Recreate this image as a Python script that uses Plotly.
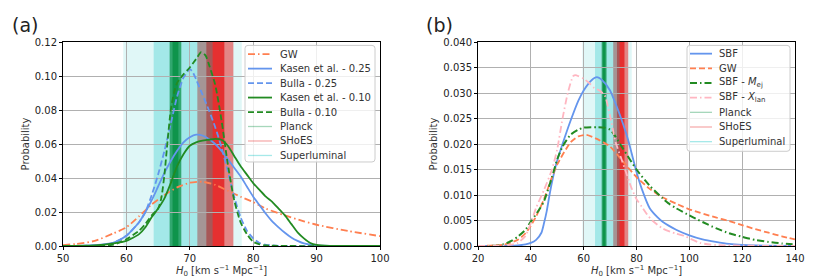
import plotly.graph_objects as go

# ---------------- data: panel (a) ----------------
gw_a_h0 = [50, 52, 55, 58, 60, 62, 64, 66, 68, 70, 72, 74, 76, 78, 80, 82, 85, 88, 90, 95, 100]
gw_a_p = [0.0005, 0.0012, 0.003, 0.0075, 0.011, 0.0175, 0.0245, 0.030, 0.0345, 0.0372, 0.0378, 0.036,
          0.0325, 0.029, 0.0258, 0.022, 0.018, 0.0145, 0.0125, 0.0088, 0.0058]

kasen25_h0 = [50, 55, 58, 60, 62, 63, 64, 65, 66, 67, 68, 69, 70, 71, 72, 73, 74, 75, 76, 77, 78, 79,
              80, 81, 82, 83, 84, 85, 86, 87, 88, 90, 95, 100]
kasen25_p = [0, 0.0005, 0.002, 0.006, 0.014, 0.02, 0.027, 0.035, 0.043, 0.050, 0.056, 0.061, 0.064,
             0.0655, 0.065, 0.063, 0.060, 0.056, 0.051, 0.046, 0.041, 0.035, 0.029, 0.024, 0.019,
             0.0145, 0.011, 0.0078, 0.005, 0.003, 0.0015, 0.0004, 0, 0]

bulla25_h0 = [50, 56, 58, 60, 62, 63, 64, 65, 66, 67, 68, 69, 70, 70.5, 71, 72, 73, 74, 75, 76, 77,
              78, 79, 80, 81, 82, 84, 100]
bulla25_p = [0, 0.0005, 0.002, 0.006, 0.014, 0.02, 0.03, 0.042, 0.056, 0.072, 0.088, 0.099, 0.104,
             0.102, 0.098, 0.089, 0.08, 0.07, 0.058, 0.044, 0.029, 0.017, 0.009, 0.0045, 0.0018,
             0.0007, 0.0001, 0]

kasen10_h0 = [50, 55, 58, 60, 62, 63, 64, 65, 66, 67, 68, 69, 70, 71, 72, 73, 74, 75, 76, 77, 78, 79,
              80, 81, 82, 83, 84, 85, 86, 87, 88, 89, 90, 92, 100]
kasen10_p = [0, 0.0003, 0.0015, 0.003, 0.007, 0.011, 0.017, 0.022, 0.028, 0.037, 0.047, 0.054, 0.059,
             0.061, 0.062, 0.0625, 0.063, 0.0625, 0.059, 0.053, 0.047, 0.042, 0.037, 0.033, 0.029,
             0.026, 0.022, 0.018, 0.013, 0.008, 0.0045, 0.0018, 0.0006, 0.0001, 0]

bulla10_h0 = [50, 56, 58, 60, 62, 63, 64, 65, 65.5, 66, 66.5, 67, 67.5, 68, 69, 70, 71, 71.8, 72.5,
              73, 74, 75, 76, 77, 78, 79, 80, 81, 82, 100]
bulla10_p = [0, 0.0002, 0.0008, 0.004, 0.009, 0.013, 0.018, 0.022, 0.028, 0.042, 0.062, 0.080, 0.090,
             0.096, 0.101, 0.105, 0.110, 0.114, 0.112, 0.107, 0.095, 0.074, 0.048, 0.027, 0.014,
             0.007, 0.0025, 0.001, 0.0003, 0]

# ---------------- data: panel (b) ----------------
sbf_h0 = [20, 35, 38, 40, 42, 44, 45, 46, 47, 48, 50, 52, 55, 58, 60, 63, 65, 67, 70, 72, 75, 77, 80,
          82, 85, 88, 90, 95, 100, 105, 110, 115, 120, 125, 140]
sbf_p = [0, 0.0001, 0.0003, 0.0006, 0.0012, 0.0026, 0.0045, 0.0068, 0.0098, 0.0125, 0.0168, 0.020,
         0.0245, 0.0285, 0.0305, 0.0325, 0.0331, 0.0325, 0.0305, 0.028, 0.0238, 0.0205, 0.0145,
         0.0112, 0.0074, 0.0056, 0.0047, 0.0032, 0.0021, 0.0013, 0.0008, 0.0004, 0.0002, 0.0001, 0]

gw_b_h0 = [20, 30, 35, 38, 40, 42, 45, 48, 50, 55, 58, 61, 65, 70, 75, 80, 85, 90, 95, 100, 110, 115,
           120, 125, 130, 135, 140]
gw_b_p = [0, 0.0003, 0.0012, 0.0025, 0.004, 0.0058, 0.0092, 0.0135, 0.016, 0.0203, 0.0215, 0.0218,
          0.021, 0.0195, 0.0165, 0.0135, 0.0112, 0.0095, 0.0083, 0.0072, 0.0056, 0.0049, 0.0041,
          0.0033, 0.0026, 0.0019, 0.0013]

sbf_mej_h0 = [20, 28, 30, 33, 35, 38, 40, 43, 45, 48, 50, 52, 55, 58, 60, 65, 68, 70, 72, 75, 80, 85,
              90, 92, 95, 100, 103, 105, 110, 115, 120, 123, 125, 130, 135, 140]
sbf_mej_p = [0, 0.0001, 0.0004, 0.0011, 0.0018, 0.0032, 0.0048, 0.007, 0.0088, 0.0135, 0.017, 0.0195,
             0.0218, 0.0228, 0.0232, 0.0233, 0.0232, 0.0228, 0.0215, 0.019, 0.015, 0.0118, 0.0093,
             0.0084, 0.0074, 0.006, 0.0052, 0.0047, 0.0035, 0.0025, 0.0018, 0.0014, 0.0012, 0.0008,
             0.0005, 0.0003]

sbf_xlan_h0 = [20, 32, 35, 38, 40, 42, 45, 48, 50, 52, 54, 56, 57, 58, 60, 62, 64, 66, 68, 70, 72, 74,
               76, 78, 80, 82, 84, 86, 90, 95, 98, 104, 110, 140]
sbf_xlan_p = [0, 0.0002, 0.0006, 0.002, 0.0045, 0.0075, 0.011, 0.015, 0.019, 0.025, 0.030, 0.0333,
              0.0335, 0.0333, 0.0328, 0.032, 0.031, 0.0305, 0.0295, 0.0255, 0.0205, 0.0175, 0.0145,
              0.0115, 0.0092, 0.0077, 0.0062, 0.005, 0.0034, 0.0024, 0.002, 0.0006, 0.0002, 0]

# ---------------- reference H0 bands (1 and 2 sigma) ----------------
superluminal_2sig = [59.5, 78.2]
superluminal_1sig = [64.3, 73.6]
shoes_2sig = [71.19, 76.87]
shoes_1sig = [72.61, 75.45]
planck_2sig = [66.82, 68.66]
planck_1sig = [67.28, 68.20]

# axis ticks
yticks_a = [0, 0.02, 0.04, 0.06, 0.08, 0.10, 0.12]
ytick_labels_a = ["0.00", "0.02", "0.04", "0.06", "0.08", "0.10", "0.12"]
xticks_a = [50, 60, 70, 80, 90, 100]
yticks_b = [0, 0.005, 0.01, 0.015, 0.02, 0.025, 0.03, 0.035, 0.04]
ytick_labels_b = ["0.000", "0.005", "0.010", "0.015", "0.020", "0.025", "0.030", "0.035", "0.040"]
xticks_b = [20, 40, 60, 80, 100, 120, 140]

# ---------------- styles ----------------
CORAL = "#ff7f50"
BLUE = "#6495ed"
GREEN = "#228b22"
PINK = "#ffb6c1"
DASH = "6px,3px"
DASHDOT = "7px,3px,1.5px,3px"
FONT = "DejaVu Sans"

fig = go.Figure()

def add_curve(x, y, color, dash, xa, ya, width=1.8):
    fig.add_trace(go.Scatter(x=x, y=y, mode="lines", xaxis=xa, yaxis=ya, showlegend=False,
                             line=dict(color=color, width=width, dash=dash, shape="spline",
                                       smoothing=0.6), hoverinfo="skip"))

# panel (a)
add_curve(gw_a_h0, gw_a_p, CORAL, DASHDOT, "x", "y")
add_curve(kasen25_h0, kasen25_p, BLUE, "solid", "x", "y")
add_curve(bulla25_h0, bulla25_p, BLUE, DASH, "x", "y")
add_curve(kasen10_h0, kasen10_p, GREEN, "solid", "x", "y")
add_curve(bulla10_h0, bulla10_p, GREEN, DASH, "x", "y")
# panel (b)
add_curve(sbf_h0, sbf_p, BLUE, "solid", "x2", "y2")
add_curve(gw_b_h0, gw_b_p, CORAL, DASH, "x2", "y2")
add_curve(sbf_mej_h0, sbf_mej_p, GREEN, DASHDOT, "x2", "y2", width=2)
add_curve(sbf_xlan_h0, sbf_xlan_p, PINK, DASHDOT, "x2", "y2")

# bands (drawn below the grid, layered with transparency)
band_layers = [
    (superluminal_2sig, "rgba(0,191,191,0.12)"),
    (shoes_2sig, "rgba(230,20,20,0.5)"),
    (shoes_1sig, "rgba(230,20,20,0.75)"),
    (superluminal_1sig, "rgba(0,191,191,0.27)"),
    (planck_2sig, "rgba(0,140,60,0.70)"),
    (planck_1sig, "rgba(0,140,60,0.70)"),
]
shapes = []
for xa in ["x", "x2"]:
    for (lo, hi), col in band_layers:
        shapes.append(dict(type="rect", xref=xa, yref=xa.replace("x", "y") + " domain",
                           x0=lo, x1=hi, y0=0, y1=1, fillcolor=col, line=dict(width=0),
                           layer="below"))

# ---------------- geometry helpers (pixels -> paper) ----------------
W, H = 830, 277
ML, MR, MT, MB = 55, 43, 34, 33
PW = W - ML - MR
PH = H - MT - MB

def px(x):
    return (x - ML) / PW

def py(y):
    return (H - MB - y) / PH

def rounded_box(l, t, r, b, rad=3):
    pts = [
        f"M{px(l + rad)},{py(t)}", f"L{px(r - rad)},{py(t)}", f"Q{px(r)},{py(t)} {px(r)},{py(t + rad)}",
        f"L{px(r)},{py(b - rad)}", f"Q{px(r)},{py(b)} {px(r - rad)},{py(b)}",
        f"L{px(l + rad)},{py(b)}", f"Q{px(l)},{py(b)} {px(l)},{py(b - rad)}",
        f"L{px(l)},{py(t + rad)}", f"Q{px(l)},{py(t)} {px(l + rad)},{py(t)}", "Z",
    ]
    return " ".join(pts)

# ---------------- legends (drawn as boxes, line samples and text) ----------------
legend_a = [
    ("GW", CORAL, DASHDOT, 1.8),
    ("Kasen et al. - 0.25", BLUE, "solid", 1.8),
    ("Bulla - 0.25", BLUE, DASH, 1.8),
    ("Kasen et al. - 0.10", GREEN, "solid", 1.8),
    ("Bulla - 0.10", GREEN, DASH, 1.8),
    ("Planck", "rgba(0,140,60,0.35)", "solid", 1.3),
    ("SHoES", "rgba(230,20,20,0.35)", "solid", 1.3),
    ("Superluminal", "rgba(0,191,191,0.35)", "solid", 1.3),
]
legend_b = [
    ("SBF", BLUE, "solid", 1.8),
    ("GW", CORAL, DASH, 1.8),
    ("SBF - <i>M</i><sub>ej</sub>", GREEN, DASHDOT, 2),
    ("SBF - <i>X</i><sub>lan</sub>", PINK, DASHDOT, 1.8),
    ("Planck", "rgba(0,140,60,0.35)", "solid", 1.3),
    ("SHoES", "rgba(230,20,20,0.35)", "solid", 1.3),
    ("Superluminal", "rgba(0,191,191,0.35)", "solid", 1.3),
]

annotations = []

def draw_legend(entries, box, line_x, text_x, y0, dy):
    l, t, r, b = box
    shapes.append(dict(type="path", xref="paper", yref="paper", path=rounded_box(l, t, r, b),
                       fillcolor="rgba(255,255,255,0.8)", line=dict(color="#cccccc", width=1),
                       layer="above"))
    for i, (name, col, dash, wd) in enumerate(entries):
        yy = y0 + i * dy
        shapes.append(dict(type="line", xref="paper", yref="paper", x0=px(line_x[0]), x1=px(line_x[1]),
                           y0=py(yy), y1=py(yy), line=dict(color=col, width=wd, dash=dash),
                           layer="above"))
        annotations.append(dict(text=name, xref="paper", yref="paper", x=px(text_x), y=py(yy),
                                xanchor="left", yanchor="middle", showarrow=False,
                                font=dict(family=FONT, size=10, color="#333333")))

draw_legend(legend_a, (237, 37.5, 367, 157.5), (240, 264), 270, 46.5, 14.9)
draw_legend(legend_b, (679, 37.5, 782, 146.5), (682, 704), 709, 46, 15.1)

# panel labels
annotations.append(dict(text="(a)", xref="paper", yref="paper", x=px(2), y=py(17), xanchor="left",
                        yanchor="middle", showarrow=False, font=dict(family=FONT, size=19, color="#222")))
annotations.append(dict(text="(b)", xref="paper", yref="paper", x=px(416), y=py(17), xanchor="left",
                        yanchor="middle", showarrow=False, font=dict(family=FONT, size=19, color="#222")))

xtitle = "<i>H</i><sub>0</sub> [km s<sup>\u22121</sup> Mpc<sup>\u22121</sup>]"
axis_common = dict(showline=True, linecolor="black", linewidth=1, mirror=True, ticks="outside",
                   ticklen=3, tickcolor="black", showgrid=True, gridcolor="#b0b0b0", gridwidth=1,
                   zeroline=False, tickfont=dict(family=FONT, size=10, color="#222"))

fig.update_layout(
    width=W, height=H, margin=dict(l=ML, r=MR, t=MT, b=MB),
    paper_bgcolor="white", plot_bgcolor="white",
    xaxis=dict(domain=[0, px(372)], range=[50, 100], tickvals=xticks_a,
               title=dict(text=xtitle, font=dict(family=FONT, size=10, color="#333"), standoff=2),
               **axis_common),
    yaxis=dict(domain=[0, 1], range=[0, 0.12], tickvals=yticks_a, ticktext=ytick_labels_a,
               title=dict(text="Probability", font=dict(family=FONT, size=10, color="#333"), standoff=3),
               anchor="x", **axis_common),
    xaxis2=dict(domain=[px(470), 1], range=[20, 140], tickvals=xticks_b, anchor="y2",
                title=dict(text=xtitle, font=dict(family=FONT, size=10, color="#333"), standoff=2),
                **axis_common),
    yaxis2=dict(domain=[0, 1], range=[0, 0.04], tickvals=yticks_b, ticktext=ytick_labels_b,
                anchor="x2",
                title=dict(text="Probability", font=dict(family=FONT, size=10, color="#333"), standoff=3),
                **axis_common),
    shapes=shapes, annotations=annotations, showlegend=False,
)

fig.write_html("out.html")
